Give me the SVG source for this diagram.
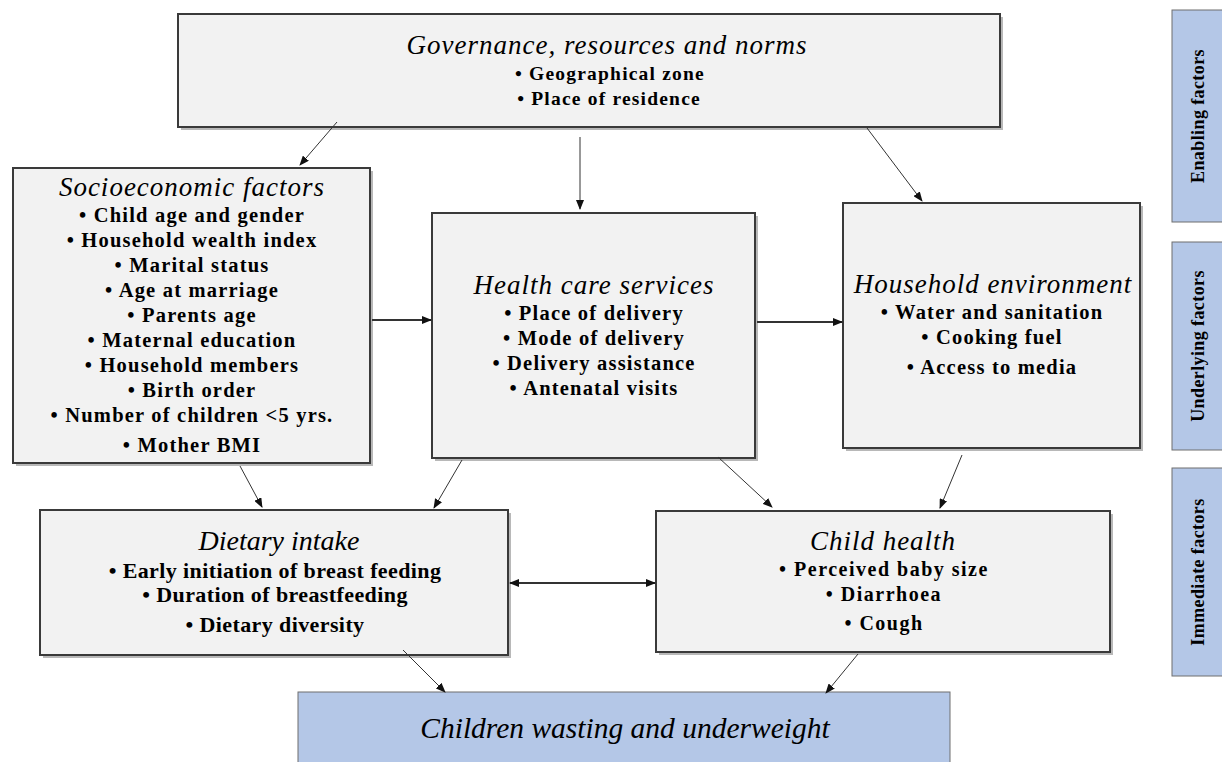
<svg xmlns="http://www.w3.org/2000/svg" width="1222" height="762" viewBox="0 0 1222 762">
<style>
.box{fill:#f2f2f2;stroke:#3a3a3a;stroke-width:2}
.shadow{fill:#b8b8b8}
.blue{fill:#b4c7e7;stroke:#6f6f6f;stroke-width:1}
.t{font-family:"Liberation Serif",serif;font-style:italic;font-size:27px;letter-spacing:1px;fill:#000;text-anchor:middle}
.tc{font-family:"Liberation Serif",serif;font-style:italic;font-size:28px;fill:#000;text-anchor:middle}
.i{font-family:"Liberation Serif",serif;font-weight:bold;font-size:20.5px;letter-spacing:1.2px;fill:#000;text-anchor:middle}
.ic{font-family:"Liberation Serif",serif;font-weight:bold;font-size:22px;letter-spacing:0.4px;fill:#000;text-anchor:middle}
.s{font-family:"Liberation Serif",serif;font-weight:bold;font-size:18px;letter-spacing:0.4px;fill:#000;text-anchor:middle}
.c{stroke:#333;stroke-width:1;fill:none;marker-end:url(#ah)}
.ct{stroke:#333;stroke-width:2;fill:none;marker-end:url(#ah)}
</style>
<defs>
<marker id="ah" markerWidth="10" markerHeight="8" refX="9" refY="4" orient="auto" markerUnits="userSpaceOnUse">
<path d="M0,0 L10,4 L0,8 z" fill="#111"/>
</marker>
<marker id="as" markerWidth="10" markerHeight="8" refX="1" refY="4" orient="auto" markerUnits="userSpaceOnUse">
<path d="M10,0 L0,4 L10,8 z" fill="#111"/>
</marker>
</defs>
<rect width="1222" height="762" fill="#fff"/>

<g id="governance">
<rect class="shadow" x="181" y="17" width="822" height="113"/>
<rect class="box" x="178" y="14" width="822" height="113"/>
<text class="t" x="607" y="54">Governance, resources and norms</text>
<text class="i" x="610" y="80" style="font-size:19.5px">•  Geographical zone</text>
<text class="i" x="609" y="105" style="font-size:19.5px">• Place of residence</text>
</g>

<g id="socioeconomic">
<rect class="shadow" x="16" y="171" width="357" height="295"/>
<rect class="box" x="13" y="168" width="357" height="295"/>
<text class="t" x="192" y="196">Socioeconomic factors</text>
<text class="i" x="192" y="222">• Child age and gender</text>
<text class="i" x="192" y="247">• Household wealth index</text>
<text class="i" x="192" y="272">• Marital status</text>
<text class="i" x="192" y="297">• Age at marriage</text>
<text class="i" x="192" y="322">• Parents age</text>
<text class="i" x="192" y="347">• Maternal education</text>
<text class="i" x="192" y="372">• Household members</text>
<text class="i" x="192" y="397">• Birth order</text>
<text class="i" x="192" y="422">• Number of children &lt;5 yrs.</text>
<text class="i" x="192" y="452">• Mother BMI</text>
</g>

<g id="healthcare">
<rect class="shadow" x="435" y="216" width="323" height="245"/>
<rect class="box" x="432" y="213" width="323" height="245"/>
<text class="t" x="594" y="294">Health care services</text>
<text class="i" x="594" y="320">• Place of delivery</text>
<text class="i" x="594" y="345">• Mode of delivery</text>
<text class="i" x="594" y="370">• Delivery assistance</text>
<text class="i" x="594" y="395">• Antenatal visits</text>
</g>

<g id="household">
<rect class="shadow" x="846" y="206" width="297" height="245"/>
<rect class="box" x="843" y="203" width="297" height="245"/>
<text class="t" x="993" y="293">Household environment</text>
<text class="i" x="992" y="319">• Water and sanitation</text>
<text class="i" x="992" y="344">• Cooking fuel</text>
<text class="i" x="992" y="374">• Access to media</text>
</g>

<g id="dietary">
<rect class="shadow" x="43" y="513" width="468" height="145"/>
<rect class="box" x="40" y="510" width="468" height="145"/>
<text class="tc" x="279" y="550">Dietary intake</text>
<text class="ic" x="275" y="578">• Early initiation of breast feeding</text>
<text class="ic" x="275" y="602">• Duration of breastfeeding</text>
<text class="ic" x="275" y="632">• Dietary diversity</text>
</g>

<g id="childhealth">
<rect class="shadow" x="659" y="514" width="454" height="141"/>
<rect class="box" x="656" y="511" width="454" height="141"/>
<text class="t" x="883" y="550">Child health</text>
<text class="i" x="884" y="576" style="font-size:20px;letter-spacing:1.5px">• Perceived baby size</text>
<text class="i" x="884" y="601" style="font-size:20px;letter-spacing:1.5px">• Diarrhoea</text>
<text class="i" x="884" y="630" style="font-size:20px;letter-spacing:1.5px">• Cough</text>
</g>

<g id="outcome">
<rect class="blue" x="298" y="692" width="652" height="80"/>
<text class="tc" x="625" y="738" style="font-size:29.5px">Children wasting and underweight</text>
</g>

<g id="enabling">
<rect class="blue" x="1172" y="10" width="56" height="212"/>
<text class="s" transform="translate(1204,116) rotate(-90)">Enabling factors</text>
</g>
<g id="underlying">
<rect class="blue" x="1172" y="242" width="56" height="208"/>
<text class="s" transform="translate(1204,346) rotate(-90)">Underlying factors</text>
</g>
<g id="immediate">
<rect class="blue" x="1172" y="468" width="56" height="208"/>
<text class="s" transform="translate(1204,572) rotate(-90)">Immediate factors</text>
</g>

<g id="connectors">
<line class="c" x1="337" y1="122" x2="300" y2="165"/>
<line class="c" x1="580" y1="137" x2="580" y2="209"/>
<line class="c" x1="867" y1="128" x2="922" y2="201"/>
<line class="ct" x1="372" y1="320" x2="431" y2="320"/>
<line class="ct" x1="757" y1="322" x2="842" y2="322"/>
<line class="c" x1="240" y1="466" x2="262" y2="507"/>
<line class="c" x1="462" y1="460" x2="434" y2="508"/>
<line class="c" x1="718" y1="457" x2="772" y2="507"/>
<line class="c" x1="962" y1="455" x2="940" y2="508"/>
<line class="ct" x1="510" y1="583" x2="655" y2="583" marker-start="url(#as)"/>
<line class="c" x1="403" y1="650" x2="445" y2="692"/>
<line class="c" x1="858" y1="654" x2="826" y2="693"/>
</g>
</svg>
